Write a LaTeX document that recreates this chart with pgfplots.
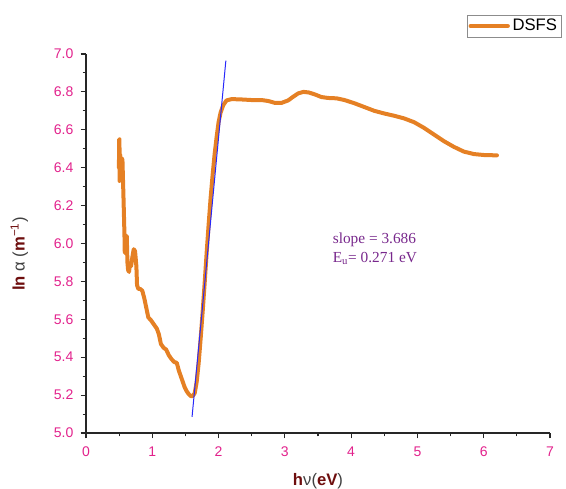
\documentclass[border=0pt]{standalone}
\usepackage{pgfplots}
\pgfplotsset{compat=1.18}
\usepackage{fontspec}
\setmainfont{Liberation Sans}
\newfontfamily\timesfont{Liberation Serif}
\definecolor{curveorange}{RGB}{229,128,36}
\definecolor{fitblue}{RGB}{40,40,250}
\definecolor{tickpink}{RGB}{226,34,140}
\definecolor{labelred}{RGB}{110,14,14}
\definecolor{notepurple}{RGB}{120,40,140}
\newcommand{\dk}[1]{\textcolor{black!75}{#1}}

\begin{document}
\begin{tikzpicture}
\useasboundingbox (-64.5pt,-41.25pt) rectangle (360pt,324.75pt);
\begin{axis}[
  scale only axis,
  width=348pt, height=284.25pt,
  xmin=0, xmax=7, ymin=5.0, ymax=7.0,
  axis lines*=left,
  axis line style={line width=0.8pt, black!85},
  xtick={0,1,...,7},
  ytick={5.0,5.2,...,7.01},
  minor x tick num=1,
  minor y tick num=1,
  tick align=outside,
  major tick length=4pt,
  minor tick length=2.5pt,
  tick style={line width=0.8pt, black!85},
  /pgf/number format/assume math mode=true,
  yticklabel style={/pgf/number format/fixed, /pgf/number format/fixed zerofill, /pgf/number format/precision=1},
  tick label style={font=\fontsize{10.5}{12}\selectfont, text=tickpink},
  xticklabel style={yshift=-3pt},
  yticklabel style={xshift=-2pt},
  xlabel={\textbf{h}\dk{ν(}\textbf{eV}\dk{)}},
  ylabel={\textbf{ln} \dk{α (}\textbf{m}\textsuperscript{−1}\dk{)}},
  label style={font=\fontsize{12.5}{14}\selectfont, text=labelred},
  xlabel style={yshift=-5.5pt},
  ylabel style={yshift=12.5pt, xshift=-8pt},
  legend style={at={(0.821,1.103)}, anchor=north west, draw=black!45,
    font=\fontsize{12.5}{13}\selectfont, inner sep=1pt,
    legend cell align=left},
  legend image code/.code={\draw[#1] (0pt,0pt) -- (28pt,0pt);},
  clip=false,
]
\addplot[color=curveorange, line width=3pt, line join=round, line cap=round] coordinates {
(0.497,6.40) (0.500,6.55) (0.505,6.55) (0.507,6.33) (0.512,6.33) (0.515,6.47)
(0.525,6.43) (0.530,6.34) (0.535,6.34) (0.540,6.45) (0.550,6.44) (0.565,6.25)
(0.580,6.05) (0.585,5.95) (0.595,5.95) (0.600,6.04) (0.615,6.04) (0.625,5.90)
(0.635,5.86) (0.650,5.85) (0.660,5.89) (0.680,5.88) (0.700,5.93) (0.720,5.97)
(0.740,5.96) (0.760,5.88) (0.770,5.78) (0.790,5.76) (0.820,5.76) (0.850,5.75)
(0.880,5.71) (0.910,5.66) (0.940,5.61) (0.980,5.595) (1.030,5.57) (1.070,5.55)
(1.100,5.52) (1.130,5.47) (1.170,5.45) (1.210,5.44) (1.250,5.41) (1.290,5.39)
(1.330,5.375) (1.370,5.37) (1.400,5.33) (1.430,5.30) (1.460,5.27) (1.490,5.24)
(1.520,5.22) (1.550,5.205) (1.580,5.195) (1.610,5.195) (1.640,5.21) (1.670,5.27)
(1.700,5.37) (1.730,5.50) (1.760,5.64) (1.790,5.79) (1.820,5.95) (1.850,6.10)
(1.880,6.24) (1.910,6.36) (1.940,6.47) (1.970,6.56) (2.000,6.64) (2.030,6.69)
(2.070,6.73) (2.120,6.755) (2.200,6.762) (2.350,6.760) (2.500,6.757) (2.650,6.757)
(2.750,6.752) (2.850,6.742) (2.950,6.742) (3.050,6.755) (3.120,6.773) (3.200,6.792)
(3.280,6.800) (3.360,6.797) (3.450,6.787) (3.550,6.773) (3.650,6.768) (3.780,6.766)
(3.900,6.757) (4.050,6.740) (4.200,6.720) (4.350,6.700) (4.500,6.686) (4.650,6.674)
(4.800,6.660) (4.950,6.640) (5.100,6.610) (5.250,6.575) (5.400,6.540) (5.550,6.510)
(5.700,6.485) (5.850,6.472) (6.000,6.467) (6.200,6.465)
};
\addlegendentry{DSFS}
% linear fit of the absorption edge, slope 3.686
\addplot[color=fitblue, line width=0.75pt, forget plot] coordinates {
(1.600,5.085) (2.110,6.965)
};
\node[anchor=north west, align=left, text=notepurple,
  font=\timesfont\fontsize{11.5}{14.5}\selectfont, inner sep=0pt]
  at (axis cs:3.72,6.06) {slope = 3.686\\E\textsubscript{u}= 0.271 eV};
\end{axis}
\end{tikzpicture}
\end{document}
